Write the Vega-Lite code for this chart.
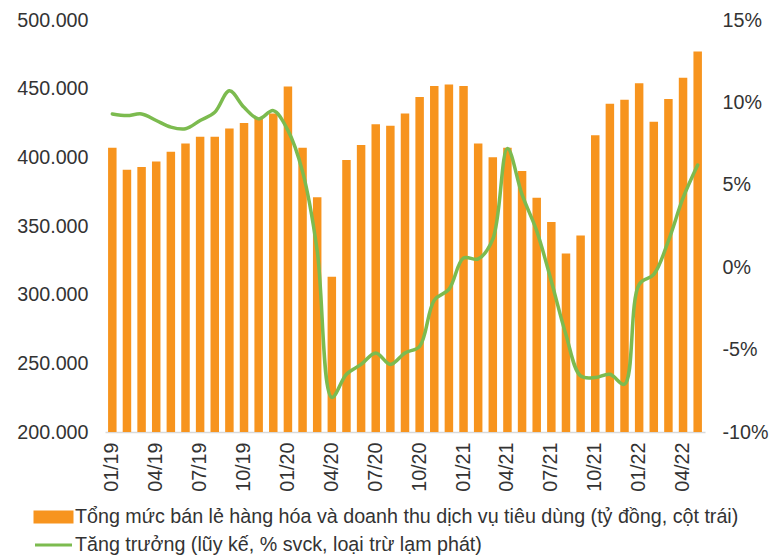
{
  "$schema": "https://vega.github.io/schema/vega-lite/v6.json",
  "autosize": {"type": "none"},
  "width": 600,
  "height": 412,
  "padding": {"left": 105, "top": 20, "right": 67, "bottom": 125},
  "background": "white",
  "config": {
    "view": {"stroke": null},
    "font": "Liberation Sans",
    "axis": {"labelFont": "Liberation Sans", "labelFontSize": 19.7, "labelColor": "#333333", "ticks": false, "grid": false, "title": null},
    "legend": {"labelFont": "Liberation Sans"}
  },
  "data": {"values": [
    {"month": "01/19", "sales": 407000, "growth": 9.3},
    {"month": "02/19", "sales": 391000, "growth": 9.2},
    {"month": "03/19", "sales": 393000, "growth": 9.3},
    {"month": "04/19", "sales": 397000, "growth": 8.9},
    {"month": "05/19", "sales": 404000, "growth": 8.5},
    {"month": "06/19", "sales": 410000, "growth": 8.4},
    {"month": "07/19", "sales": 415000, "growth": 8.9},
    {"month": "08/19", "sales": 415000, "growth": 9.4},
    {"month": "09/19", "sales": 421000, "growth": 10.7},
    {"month": "10/19", "sales": 425000, "growth": 9.7},
    {"month": "11/19", "sales": 429000, "growth": 9.0},
    {"month": "12/19", "sales": 432000, "growth": 9.5},
    {"month": "01/20", "sales": 451500, "growth": 8.3},
    {"month": "02/20", "sales": 407000, "growth": 5.8},
    {"month": "03/20", "sales": 371000, "growth": 1.0},
    {"month": "04/20", "sales": 313000, "growth": -7.9},
    {"month": "05/20", "sales": 398000, "growth": -6.5},
    {"month": "06/20", "sales": 409000, "growth": -5.9},
    {"month": "07/20", "sales": 424000, "growth": -5.2},
    {"month": "08/20", "sales": 423000, "growth": -5.9},
    {"month": "09/20", "sales": 432000, "growth": -5.2},
    {"month": "10/20", "sales": 444000, "growth": -4.8},
    {"month": "11/20", "sales": 452000, "growth": -2.0},
    {"month": "12/20", "sales": 453000, "growth": -1.35},
    {"month": "01/21", "sales": 452000, "growth": 0.56},
    {"month": "02/21", "sales": 410000, "growth": 0.5},
    {"month": "03/21", "sales": 400000, "growth": 1.7},
    {"month": "04/21", "sales": 407000, "growth": 7.2},
    {"month": "05/21", "sales": 390000, "growth": 4.4},
    {"month": "06/21", "sales": 370500, "growth": 2.2},
    {"month": "07/21", "sales": 353000, "growth": -0.85},
    {"month": "08/21", "sales": 330000, "growth": -4.1},
    {"month": "09/21", "sales": 343000, "growth": -6.6},
    {"month": "10/21", "sales": 416000, "growth": -6.7},
    {"month": "11/21", "sales": 439000, "growth": -6.5},
    {"month": "12/21", "sales": 442000, "growth": -7.1},
    {"month": "01/22", "sales": 454000, "growth": -1.05},
    {"month": "02/22", "sales": 426000, "growth": -0.44},
    {"month": "03/22", "sales": 442500, "growth": 1.6},
    {"month": "04/22", "sales": 458000, "growth": 4.2},
    {"month": "05/22", "sales": 477000, "growth": 6.2}
  ]},
  "encoding": {
    "x": {
      "field": "month", "type": "ordinal", "sort": null,
      "scale": {"paddingInner": 0.42, "paddingOuter": 0.21},
      "axis": {
        "values": ["01/19","04/19","07/19","10/19","01/20","04/20","07/20","10/20","01/21","04/21","07/21","10/21","01/22","04/22"],
        "labelAngle": -90, "labelPadding": 10, "domainColor": "#d9d9d9", "domainWidth": 1.5
      }
    }
  },
  "layer": [
    {
      "mark": {"type": "bar", "clip": true},
      "encoding": {
        "y": {
          "field": "sales", "type": "quantitative",
          "scale": {"domain": [200000, 500000], "nice": false, "zero": false},
          "axis": {
            "orient": "left", "values": [200000, 250000, 300000, 350000, 400000, 450000, 500000],
            "labelExpr": "replace(format(datum.value, ',.0f'), ',', '.')",
            "domain": false, "labelPadding": 17
          }
        },
        "color": {
          "datum": "Tổng mức bán lẻ hàng hóa và doanh thu dịch vụ tiêu dùng (tỷ đồng, cột trái)",
          "type": "nominal",
          "scale": {
            "domain": ["Tổng mức bán lẻ hàng hóa và doanh thu dịch vụ tiêu dùng (tỷ đồng, cột trái)", "Tăng trưởng (lũy kế, % svck, loại trừ lạm phát)"],
            "range": ["#F7941E", "#7CBB4F"]
          },
          "legend": {
            "orient": "none", "legendX": -70, "legendY": 485.5, "direction": "vertical",
            "title": null, "padding": 0, "rowPadding": 5,
            "labelFontSize": 19.7, "labelColor": "#333333", "labelOffset": 17, "labelLimit": 800,
            "symbolSize": 400, "symbolStrokeWidth": 3,
            "encode": {
              "symbols": {
                "update": {
                  "shape": {"signal": "datum.index === 1 ? 'M-1.15,0H2.55' : 'M-1.15,-0.5H2.55V0.5H-1.15Z'"},
                  "fill": {"signal": "datum.index === 1 ? 'transparent' : '#F7941E'"},
                  "stroke": {"signal": "datum.index === 1 ? '#7CBB4F' : 'transparent'"},
                  "strokeWidth": {"value": 3},
                  "size": {"value": 400},
                  "opacity": {"value": 1}
                }
              }
            }
          }
        }
      }
    },
    {
      "mark": {"type": "line", "interpolate": "catmull-rom", "strokeWidth": 3.5, "strokeCap": "round", "strokeJoin": "round"},
      "encoding": {
        "y": {
          "field": "growth", "type": "quantitative",
          "scale": {"domain": [-10, 15], "nice": false, "zero": false},
          "axis": {
            "orient": "right", "values": [-10, -5, 0, 5, 10, 15],
            "labelExpr": "datum.value + '%'",
            "domain": false, "labelPadding": 17
          }
        },
        "color": {"datum": "Tăng trưởng (lũy kế, % svck, loại trừ lạm phát)", "type": "nominal"}
      }
    }
  ],
  "resolve": {"scale": {"y": "independent"}}
}
